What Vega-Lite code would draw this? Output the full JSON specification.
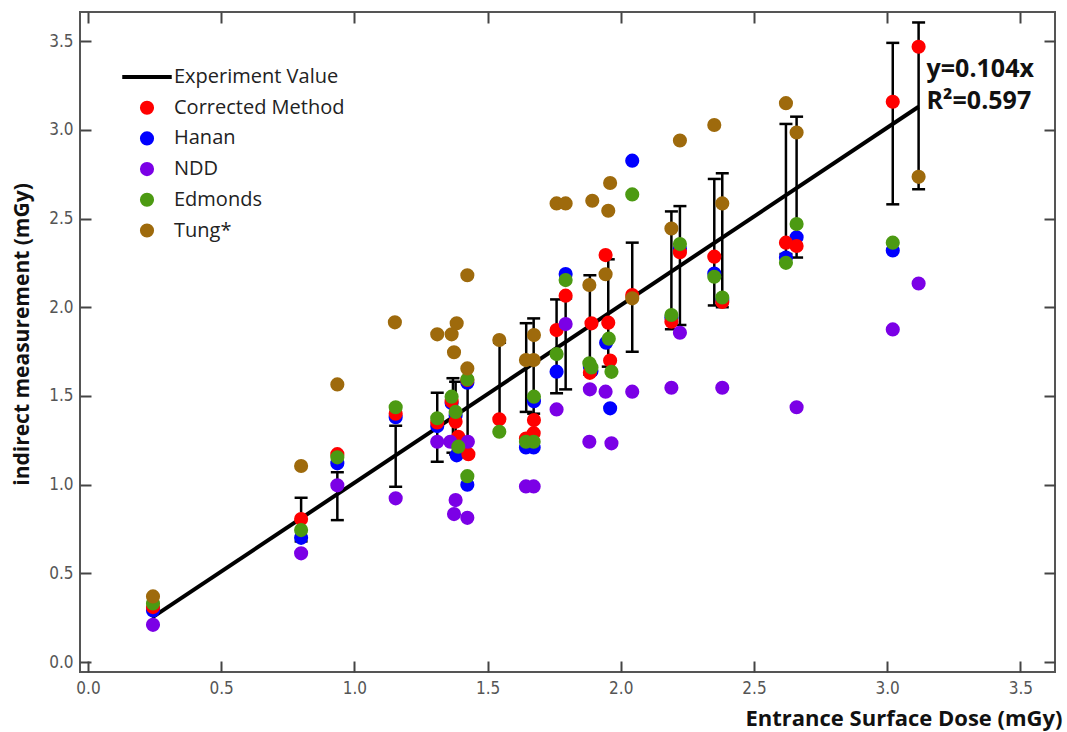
{
  "$schema": "https://vega.github.io/schema/vega-lite/v6.json",
  "width": 975,
  "height": 660,
  "autosize": {"type": "none"},
  "padding": {"left": 80, "top": 12, "right": 12, "bottom": 60},
  "background": "white",
  "config": {"view": {"stroke": "#555", "strokeWidth": 2}},
  "datasets": {
    "fit": [{"x": 0.24, "y": 0.25}, {"x": 3.118, "y": 3.13}],
    "err": [
      {"x": 0.80, "lo": 0.68, "hi": 0.926},
      {"x": 0.936, "lo": 0.80, "hi": 1.07},
      {"x": 1.155, "lo": 0.988, "hi": 1.332},
      {"x": 1.311, "lo": 1.129, "hi": 1.518},
      {"x": 1.37, "lo": 1.18, "hi": 1.60},
      {"x": 1.38, "lo": 1.17, "hi": 1.58},
      {"x": 1.425, "lo": 1.16, "hi": 1.58},
      {"x": 1.545, "lo": 1.37, "hi": 1.80},
      {"x": 1.645, "lo": 1.41, "hi": 1.91},
      {"x": 1.673, "lo": 1.40, "hi": 1.937},
      {"x": 1.759, "lo": 1.515, "hi": 2.044},
      {"x": 1.793, "lo": 1.537, "hi": 2.05},
      {"x": 1.884, "lo": 1.62, "hi": 2.18},
      {"x": 1.953, "lo": 1.665, "hi": 2.27},
      {"x": 2.043, "lo": 1.749, "hi": 2.364},
      {"x": 2.19, "lo": 1.876, "hi": 2.54},
      {"x": 2.222, "lo": 1.90, "hi": 2.57},
      {"x": 2.351, "lo": 2.01, "hi": 2.723},
      {"x": 2.381, "lo": 2.00, "hi": 2.755},
      {"x": 2.62, "lo": 2.30, "hi": 3.033},
      {"x": 2.66, "lo": 2.28, "hi": 3.074},
      {"x": 3.021, "lo": 2.58, "hi": 3.49},
      {"x": 3.118, "lo": 2.665, "hi": 3.605}
    ],
    "pts": [
      {"m": "Hanan", "x": 0.244, "y": 0.29},
      {"m": "Hanan", "x": 0.80, "y": 0.70},
      {"m": "Hanan", "x": 0.936, "y": 1.12},
      {"m": "Hanan", "x": 1.155, "y": 1.38},
      {"m": "Hanan", "x": 1.311, "y": 1.33},
      {"m": "Hanan", "x": 1.365, "y": 1.46},
      {"m": "Hanan", "x": 1.38, "y": 1.39},
      {"m": "Hanan", "x": 1.384, "y": 1.165},
      {"m": "Hanan", "x": 1.424, "y": 1.575},
      {"m": "Hanan", "x": 1.424, "y": 1.00},
      {"m": "Hanan", "x": 1.644, "y": 1.21},
      {"m": "Hanan", "x": 1.673, "y": 1.21},
      {"m": "Hanan", "x": 1.674, "y": 1.47},
      {"m": "Hanan", "x": 1.759, "y": 1.637},
      {"m": "Hanan", "x": 1.793, "y": 2.187},
      {"m": "Hanan", "x": 1.884, "y": 1.665},
      {"m": "Hanan", "x": 1.89, "y": 1.64},
      {"m": "Hanan", "x": 1.945, "y": 1.80},
      {"m": "Hanan", "x": 1.96, "y": 1.43},
      {"m": "Hanan", "x": 2.043, "y": 2.826},
      {"m": "Hanan", "x": 2.19, "y": 1.94},
      {"m": "Hanan", "x": 2.222, "y": 2.33},
      {"m": "Hanan", "x": 2.351, "y": 2.19},
      {"m": "Hanan", "x": 2.381, "y": 2.04},
      {"m": "Hanan", "x": 2.62, "y": 2.28},
      {"m": "Hanan", "x": 2.66, "y": 2.394},
      {"m": "Hanan", "x": 3.021, "y": 2.32},
      {"m": "Corrected Method", "x": 0.244, "y": 0.31},
      {"m": "Corrected Method", "x": 0.80, "y": 0.806},
      {"m": "Corrected Method", "x": 0.936, "y": 1.172},
      {"m": "Corrected Method", "x": 1.155, "y": 1.40},
      {"m": "Corrected Method", "x": 1.311, "y": 1.35},
      {"m": "Corrected Method", "x": 1.365, "y": 1.47},
      {"m": "Corrected Method", "x": 1.38, "y": 1.355},
      {"m": "Corrected Method", "x": 1.39, "y": 1.27},
      {"m": "Corrected Method", "x": 1.424, "y": 1.59},
      {"m": "Corrected Method", "x": 1.428, "y": 1.172},
      {"m": "Corrected Method", "x": 1.544, "y": 1.368},
      {"m": "Corrected Method", "x": 1.644, "y": 1.26},
      {"m": "Corrected Method", "x": 1.673, "y": 1.29},
      {"m": "Corrected Method", "x": 1.674, "y": 1.364},
      {"m": "Corrected Method", "x": 1.759, "y": 1.871},
      {"m": "Corrected Method", "x": 1.793, "y": 2.065},
      {"m": "Corrected Method", "x": 1.89, "y": 1.909},
      {"m": "Corrected Method", "x": 1.884, "y": 1.63},
      {"m": "Corrected Method", "x": 1.943, "y": 2.294},
      {"m": "Corrected Method", "x": 1.953, "y": 1.913},
      {"m": "Corrected Method", "x": 1.96, "y": 1.70},
      {"m": "Corrected Method", "x": 2.043, "y": 2.069},
      {"m": "Corrected Method", "x": 2.19, "y": 1.918},
      {"m": "Corrected Method", "x": 2.222, "y": 2.31},
      {"m": "Corrected Method", "x": 2.351, "y": 2.285},
      {"m": "Corrected Method", "x": 2.381, "y": 2.03},
      {"m": "Corrected Method", "x": 2.62, "y": 2.364},
      {"m": "Corrected Method", "x": 2.66, "y": 2.345},
      {"m": "Corrected Method", "x": 3.021, "y": 3.158},
      {"m": "Corrected Method", "x": 3.118, "y": 3.468},
      {"m": "NDD", "x": 0.244, "y": 0.21},
      {"m": "NDD", "x": 0.80, "y": 0.613},
      {"m": "NDD", "x": 0.936, "y": 0.996},
      {"m": "NDD", "x": 1.155, "y": 0.923},
      {"m": "NDD", "x": 1.311, "y": 1.242},
      {"m": "NDD", "x": 1.36, "y": 1.242},
      {"m": "NDD", "x": 1.38, "y": 0.913},
      {"m": "NDD", "x": 1.374, "y": 0.834},
      {"m": "NDD", "x": 1.426, "y": 1.242},
      {"m": "NDD", "x": 1.424, "y": 0.813},
      {"m": "NDD", "x": 1.644, "y": 0.99},
      {"m": "NDD", "x": 1.673, "y": 0.99},
      {"m": "NDD", "x": 1.759, "y": 1.424},
      {"m": "NDD", "x": 1.793, "y": 1.905},
      {"m": "NDD", "x": 1.884, "y": 1.537},
      {"m": "NDD", "x": 1.882, "y": 1.242},
      {"m": "NDD", "x": 1.943, "y": 1.524},
      {"m": "NDD", "x": 1.965, "y": 1.233},
      {"m": "NDD", "x": 2.043, "y": 1.524},
      {"m": "NDD", "x": 2.19, "y": 1.546},
      {"m": "NDD", "x": 2.222, "y": 1.856},
      {"m": "NDD", "x": 2.381, "y": 1.546},
      {"m": "NDD", "x": 2.66, "y": 1.436},
      {"m": "NDD", "x": 3.021, "y": 1.875},
      {"m": "NDD", "x": 3.118, "y": 2.134},
      {"m": "Edmonds", "x": 0.244, "y": 0.33},
      {"m": "Edmonds", "x": 0.80, "y": 0.744},
      {"m": "Edmonds", "x": 0.936, "y": 1.154},
      {"m": "Edmonds", "x": 1.155, "y": 1.436},
      {"m": "Edmonds", "x": 1.311, "y": 1.374},
      {"m": "Edmonds", "x": 1.365, "y": 1.496},
      {"m": "Edmonds", "x": 1.38, "y": 1.41},
      {"m": "Edmonds", "x": 1.39, "y": 1.214},
      {"m": "Edmonds", "x": 1.424, "y": 1.593},
      {"m": "Edmonds", "x": 1.424, "y": 1.048},
      {"m": "Edmonds", "x": 1.544, "y": 1.298},
      {"m": "Edmonds", "x": 1.644, "y": 1.242},
      {"m": "Edmonds", "x": 1.673, "y": 1.242},
      {"m": "Edmonds", "x": 1.674, "y": 1.496},
      {"m": "Edmonds", "x": 1.759, "y": 1.736},
      {"m": "Edmonds", "x": 1.793, "y": 2.153},
      {"m": "Edmonds", "x": 1.882, "y": 1.684},
      {"m": "Edmonds", "x": 1.89, "y": 1.66},
      {"m": "Edmonds", "x": 1.955, "y": 1.823},
      {"m": "Edmonds", "x": 1.965, "y": 1.636},
      {"m": "Edmonds", "x": 2.043, "y": 2.636},
      {"m": "Edmonds", "x": 2.19, "y": 1.956},
      {"m": "Edmonds", "x": 2.222, "y": 2.356},
      {"m": "Edmonds", "x": 2.351, "y": 2.172},
      {"m": "Edmonds", "x": 2.381, "y": 2.055},
      {"m": "Edmonds", "x": 2.62, "y": 2.25},
      {"m": "Edmonds", "x": 2.66, "y": 2.469},
      {"m": "Edmonds", "x": 3.021, "y": 2.364},
      {"m": "Tung*", "x": 0.244, "y": 0.37},
      {"m": "Tung*", "x": 0.80, "y": 1.105},
      {"m": "Tung*", "x": 0.936, "y": 1.565},
      {"m": "Tung*", "x": 1.152, "y": 1.915},
      {"m": "Tung*", "x": 1.311, "y": 1.847},
      {"m": "Tung*", "x": 1.365, "y": 1.847},
      {"m": "Tung*", "x": 1.384, "y": 1.909},
      {"m": "Tung*", "x": 1.374, "y": 1.746},
      {"m": "Tung*", "x": 1.424, "y": 1.655},
      {"m": "Tung*", "x": 1.424, "y": 2.18},
      {"m": "Tung*", "x": 1.544, "y": 1.815},
      {"m": "Tung*", "x": 1.644, "y": 1.702},
      {"m": "Tung*", "x": 1.673, "y": 1.702},
      {"m": "Tung*", "x": 1.674, "y": 1.843},
      {"m": "Tung*", "x": 1.759, "y": 2.585},
      {"m": "Tung*", "x": 1.793, "y": 2.585},
      {"m": "Tung*", "x": 1.893, "y": 2.60},
      {"m": "Tung*", "x": 1.882, "y": 2.125},
      {"m": "Tung*", "x": 1.943, "y": 2.186},
      {"m": "Tung*", "x": 1.953, "y": 2.544},
      {"m": "Tung*", "x": 1.96, "y": 2.70},
      {"m": "Tung*", "x": 2.043, "y": 2.05},
      {"m": "Tung*", "x": 2.19, "y": 2.444},
      {"m": "Tung*", "x": 2.222, "y": 2.94},
      {"m": "Tung*", "x": 2.351, "y": 3.027},
      {"m": "Tung*", "x": 2.381, "y": 2.585},
      {"m": "Tung*", "x": 2.62, "y": 3.15},
      {"m": "Tung*", "x": 2.66, "y": 2.985},
      {"m": "Tung*", "x": 3.118, "y": 2.735}
    ],
    "ann": [
      {"x": 3.148, "y": 3.34, "t": "y=0.104x"},
      {"x": 3.148, "y": 3.165, "t": "R²=0.597"}
    ]
  },
  "layer": [
    {
      "data": {"name": "fit"},
      "mark": {"type": "point", "opacity": 0},
      "encoding": {
        "x": {"field": "x", "type": "quantitative", "scale": {"domain": [-0.03, 3.63], "nice": false, "zero": false},
          "axis": {"orient": "top", "values": [0, 0.5, 1, 1.5, 2, 2.5, 3, 3.5], "labels": false, "domain": false, "grid": false, "tickSize": -11, "tickWidth": 2, "tickColor": "#444", "title": null}},
        "y": {"field": "y", "type": "quantitative", "scale": {"domain": [-0.056, 3.664], "nice": false, "zero": false},
          "axis": {"orient": "right", "values": [0, 0.5, 1, 1.5, 2, 2.5, 3, 3.5], "labels": false, "domain": false, "grid": false, "tickSize": -11, "tickWidth": 2, "tickColor": "#444", "title": null}}
      }
    },
    {
      "data": {"name": "fit"},
      "mark": {"type": "line", "color": "black", "strokeWidth": 4},
      "encoding": {
        "x": {"field": "x", "type": "quantitative", "scale": {"domain": [-0.03, 3.63], "nice": false, "zero": false}, "axis": null},
        "y": {"field": "y", "type": "quantitative", "scale": {"domain": [-0.056, 3.664], "nice": false, "zero": false}, "axis": null}
      }
    },
    {
      "data": {"name": "err"},
      "mark": {"type": "rule", "color": "black", "strokeWidth": 2.5},
      "encoding": {
        "x": {"field": "x", "type": "quantitative", "scale": {"domain": [-0.03, 3.63], "nice": false, "zero": false}, "axis": null},
        "y": {"field": "lo", "type": "quantitative", "scale": {"domain": [-0.056, 3.664], "nice": false, "zero": false}, "axis": null},
        "y2": {"field": "hi"}
      }
    },
    {
      "data": {"name": "err"},
      "transform": [{"fold": ["lo", "hi"], "as": ["k", "v"]}],
      "mark": {"type": "tick", "orient": "horizontal", "size": 13, "thickness": 2.5, "color": "black", "opacity": 1},
      "encoding": {
        "x": {"field": "x", "type": "quantitative", "scale": {"domain": [-0.03, 3.63], "nice": false, "zero": false}, "axis": null},
        "y": {"field": "v", "type": "quantitative", "scale": {"domain": [-0.056, 3.664], "nice": false, "zero": false}, "axis": null}
      }
    },
    {
      "data": {"name": "pts"},
      "mark": {"type": "point", "filled": true, "size": 200, "opacity": 1, "strokeWidth": 0},
      "encoding": {
        "x": {"field": "x", "type": "quantitative", "scale": {"domain": [-0.03, 3.63], "nice": false, "zero": false},
          "axis": {"orient": "bottom", "values": [0, 0.5, 1, 1.5, 2, 2.5, 3, 3.5], "format": ".1f", "domain": false, "grid": false, "tickSize": -11, "tickWidth": 2, "tickColor": "#444",
            "labelPadding": 19, "labelFont": "Liberation Sans Narrow, DejaVu Sans Condensed, sans-serif", "labelFontSize": 17, "labelColor": "#555",
            "title": "Entrance Surface Dose (mGy)", "titleFont": "Open Sans", "titleFontSize": 22, "titleFontWeight": "bold", "titleColor": "#111",
            "titleX": 982, "titleY": 46, "titleAlign": "right", "titleBaseline": "middle"}},
        "y": {"field": "y", "type": "quantitative", "scale": {"domain": [-0.056, 3.664], "nice": false, "zero": false},
          "axis": {"orient": "left", "values": [0, 0.5, 1, 1.5, 2, 2.5, 3, 3.5], "format": ".1f", "domain": false, "grid": false, "tickSize": -11, "tickWidth": 2, "tickColor": "#444",
            "labelPadding": 18, "labelFont": "Liberation Sans Narrow, DejaVu Sans Condensed, sans-serif", "labelFontSize": 17, "labelColor": "#555",
            "title": "indirect measurement (mGy)", "titleFont": "Open Sans", "titleFontSize": 21, "titleFontWeight": "bold", "titleColor": "#111",
            "titleX": -58, "titleY": 322, "titleAngle": -90, "titleAlign": "center", "titleBaseline": "middle"}},
        "color": {"field": "m", "type": "nominal",
          "scale": {"domain": ["Experiment Value", "Corrected Method", "Hanan", "NDD", "Edmonds", "Tung*"], "range": ["#000000", "#ff0000", "#0000ff", "#7b00e6", "#4c9a12", "#9e6a0c"]},
          "legend": {"title": null, "orient": "none", "legendX": 57, "legendY": 55, "padding": 0, "symbolSize": 200, "labelFontSize": 20, "labelFont": "Open Sans", "labelColor": "#222", "labelOffset": 17, "labelLimit": 0, "rowPadding": 10.7, "symbolStrokeWidth": 0}},
        "shape": {"field": "m", "type": "nominal",
          "scale": {"domain": ["Experiment Value", "Corrected Method", "Hanan", "NDD", "Edmonds", "Tung*"], "range": ["M-3.5,-0.28L3.5,-0.28L3.5,0.28L-3.5,0.28Z", "circle", "circle", "circle", "circle", "circle"]},
          "legend": {"title": null, "orient": "none", "legendX": 57, "legendY": 55, "padding": 0, "symbolSize": 200, "labelFontSize": 20, "labelFont": "Open Sans", "labelColor": "#222", "labelOffset": 17, "labelLimit": 0, "rowPadding": 10.7, "symbolStrokeWidth": 0}}
      }
    },
    {
      "data": {"name": "ann"},
      "mark": {"type": "text", "align": "left", "baseline": "middle", "font": "Open Sans", "fontWeight": "bold", "fontSize": 25, "color": "#111"},
      "encoding": {
        "x": {"field": "x", "type": "quantitative", "scale": {"domain": [-0.03, 3.63], "nice": false, "zero": false}, "axis": null},
        "y": {"field": "y", "type": "quantitative", "scale": {"domain": [-0.056, 3.664], "nice": false, "zero": false}, "axis": null},
        "text": {"field": "t"}
      }
    }
  ],
  "resolve": {"axis": {"x": "independent", "y": "independent"}}
}
